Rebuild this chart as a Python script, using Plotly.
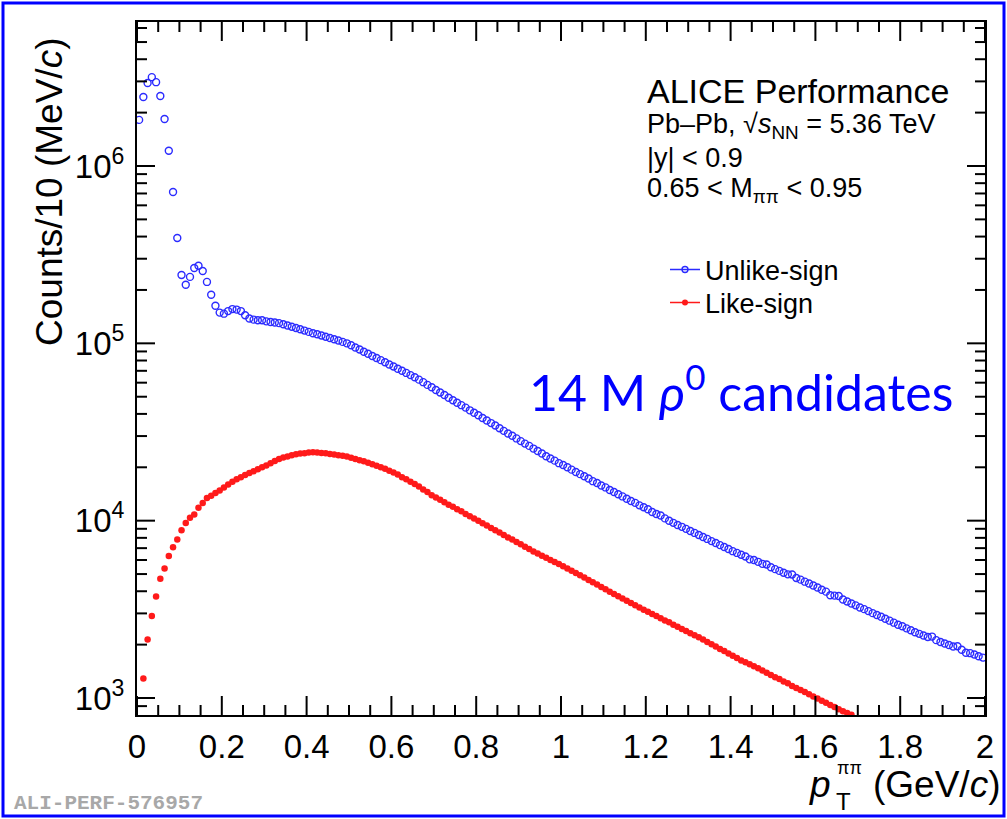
import numpy as np
import plotly.graph_objects as go

# pT bin centres, 10 MeV/c bins from 0 to 2 GeV/c
pt = [round(0.005 + 0.01 * i, 3) for i in range(200)]

# Unlike-sign pi+pi- pairs, counts per 10 MeV/c
unlike_sign = [
    1.82e6, 2.45e6, 2.94e6, 3.17e6, 2.97e6, 2.48e6, 1.84e6, 1.22e6, 7.14e5, 3.93e5,
    2.43e5, 2.14e5, 2.37e5, 2.66e5, 2.74e5, 2.56e5, 2.22e5, 1.88e5, 1.63e5, 1.49e5,
    1.47e5, 1.52e5, 1.56e5, 1.55e5, 1.52e5, 1.44e5, 1.38e5, 1.36e5, 1.35e5, 1.35e5,
    1.33e5, 1.32e5, 1.31e5, 1.30e5, 1.28e5, 1.26e5, 1.24e5, 1.22e5, 1.20e5, 1.18e5,
    1.16e5, 1.14e5, 1.125e5, 1.107e5, 1.089e5, 1.072e5, 1.054e5, 1.037e5, 1.019e5, 1.00e5,
    9.75e4, 9.48e4, 9.23e4, 8.97e4, 8.73e4, 8.49e4, 8.26e4, 8.04e4, 7.82e4, 7.60e4,
    7.40e4, 7.19e4, 7.00e4, 6.81e4, 6.62e4, 6.44e4, 6.24e4, 6.04e4, 5.83e4, 5.65e4,
    5.46e4, 5.28e4, 5.11e4, 4.93e4, 4.78e4, 4.62e4, 4.48e4, 4.34e4, 4.19e4, 4.06e4,
    3.93e4, 3.79e4, 3.67e4, 3.55e4, 3.44e4, 3.32e4, 3.21e4, 3.10e4, 3.01e4, 2.91e4,
    2.81e4, 2.72e4, 2.64e4, 2.55e4, 2.47e4, 2.39e4, 2.31e4, 2.24e4, 2.18e4, 2.11e4,
    2.06e4, 2.00e4, 1.94e4, 1.88e4, 1.83e4, 1.78e4, 1.73e4, 1.67e4, 1.63e4, 1.58e4,
    1.54e4, 1.49e4, 1.45e4, 1.41e4, 1.37e4, 1.33e4, 1.29e4, 1.26e4, 1.22e4, 1.19e4,
    1.16e4, 1.12e4, 1.09e4, 1.07e4, 1.03e4, 9.98e3, 9.72e3, 9.46e3, 9.23e3, 8.99e3,
    8.75e3, 8.53e3, 8.30e3, 8.09e3, 7.89e3, 7.67e3, 7.48e3, 7.28e3, 7.10e3, 6.92e3,
    6.73e3, 6.58e3, 6.43e3, 6.28e3, 6.05e3, 6.00e3, 5.86e3, 5.71e3, 5.66e3, 5.46e3,
    5.33e3, 5.21e3, 5.09e3, 4.98e3, 4.97e3, 4.75e3, 4.65e3, 4.53e3, 4.42e3, 4.31e3,
    4.20e3, 4.08e3, 3.98e3, 3.80e3, 3.78e3, 3.76e3, 3.59e3, 3.50e3, 3.41e3, 3.33e3,
    3.24e3, 3.17e3, 3.09e3, 3.01e3, 2.94e3, 2.87e3, 2.80e3, 2.73e3, 2.66e3, 2.59e3,
    2.54e3, 2.47e3, 2.41e3, 2.35e3, 2.30e3, 2.25e3, 2.21e3, 2.22e3, 2.12e3, 2.07e3,
    2.03e3, 1.99e3, 1.95e3, 1.96e3, 1.87e3, 1.80e3, 1.79e3, 1.76e3, 1.72e3, 1.69e3,
]

# Like-sign pairs, starting at the 0.015 GeV/c bin
like_sign = [
    1.29e3, 2.14e3, 2.90e3, 3.73e3, 4.70e3, 5.37e3, 6.33e3, 7.08e3, 7.82e3,
    8.82e3, 9.71e3, 1.04e4, 1.084e4, 1.183e4, 1.258e4, 1.343e4, 1.38e4, 1.43e4, 1.48e4,
    1.54e4, 1.60e4, 1.66e4, 1.71e4, 1.76e4, 1.81e4, 1.86e4, 1.90e4, 1.95e4, 2.00e4,
    2.05e4, 2.11e4, 2.17e4, 2.23e4, 2.27e4, 2.30e4, 2.34e4, 2.37e4, 2.39e4, 2.40e4,
    2.42e4, 2.43e4, 2.42e4, 2.41e4, 2.40e4, 2.38e4, 2.36e4, 2.34e4, 2.32e4, 2.30e4,
    2.26e4, 2.23e4, 2.19e4, 2.16e4, 2.12e4, 2.08e4, 2.04e4, 2.00e4, 1.96e4, 1.91e4,
    1.87e4, 1.82e4, 1.76e4, 1.71e4, 1.66e4, 1.61e4, 1.56e4, 1.50e4, 1.45e4, 1.39e4,
    1.35e4, 1.31e4, 1.27e4, 1.23e4, 1.20e4, 1.16e4, 1.13e4, 1.09e4, 1.06e4, 1.03e4,
    9.98e3, 9.68e3, 9.38e3, 9.10e3, 8.83e3, 8.57e3, 8.30e3, 8.05e3, 7.82e3, 7.59e3,
    7.36e3, 7.13e3, 6.92e3, 6.71e3, 6.53e3, 6.35e3, 6.18e3, 6.01e3, 5.85e3, 5.69e3,
    5.53e3, 5.38e3, 5.22e3, 5.07e3, 4.92e3, 4.78e3, 4.63e3, 4.50e3, 4.37e3, 4.23e3,
    4.10e3, 3.98e3, 3.86e3, 3.75e3, 3.64e3, 3.53e3, 3.43e3, 3.33e3, 3.24e3, 3.15e3,
    3.06e3, 2.98e3, 2.90e3, 2.82e3, 2.74e3, 2.67e3, 2.59e3, 2.52e3, 2.45e3, 2.39e3,
    2.32e3, 2.26e3, 2.20e3, 2.14e3, 2.07e3, 2.01e3, 1.95e3, 1.89e3, 1.84e3, 1.78e3,
    1.73e3, 1.68e3, 1.63e3, 1.59e3, 1.55e3, 1.51e3, 1.47e3, 1.43e3, 1.39e3, 1.35e3,
    1.31e3, 1.28e3, 1.24e3, 1.21e3, 1.17e3, 1.14e3, 1.11e3, 1.08e3, 1.05e3, 1.02e3,
    993, 966, 940, 914, 889, 865, 841, 822, 804,
]
like_pt = pt[1:1 + len(like_sign)]

x_major = [round(0.2 * i, 1) for i in range(11)]
x_minor = [round(0.05 * i, 2) for i in range(41) if i % 4]
y_major = [1e3, 1e4, 1e5, 1e6]
y_major_text = ["10<sup>3</sup>", "10<sup>4</sup>", "10<sup>5</sup>", "10<sup>6</sup>"]
y_minor = [m * 10 ** d for d in range(2, 7) for m in range(2, 10)]
x_range = [0, 2]
y_range = [np.log10(802), 6.812]

BLUE = "#2b2bff"
RED = "#ff1a1a"
FONT = "Liberation Sans"

# plot-area geometry in pixels, used for placing text in paper coordinates
L, R, T, B = 137, 985, 22, 715
W_PX, H_PX = R - L, B - T


def px_x(px):
    return (px - L) / W_PX


def px_y(py):
    return (B - py) / H_PX


fig = go.Figure()

fig.add_trace(go.Scatter(
    x=pt, y=unlike_sign, mode="markers", showlegend=False,
    marker=dict(symbol="circle-open", size=7, color=BLUE, line=dict(width=1.4, color=BLUE)),
))
fig.add_trace(go.Scatter(
    x=like_pt, y=like_sign, mode="markers", showlegend=False,
    marker=dict(symbol="circle", size=6.5, color=RED),
))

# legend entries drawn as line + marker, one legend box each
fig.add_trace(go.Scatter(
    x=[None], y=[None], mode="lines+markers", name="Unlike-sign", legend="legend",
    line=dict(color=BLUE, width=1.5),
    marker=dict(symbol="circle-open", size=6, color=BLUE, line=dict(width=1.4, color=BLUE)),
))
fig.add_trace(go.Scatter(
    x=[None], y=[None], mode="lines+markers", name="Like-sign", legend="legend2",
    line=dict(color=RED, width=1.5),
    marker=dict(symbol="circle", size=6, color=RED),
))

fig.update_xaxes(
    range=x_range, tickmode="array", tickvals=x_major,
    ticktext=[f"{v:g}" for v in x_major], ticks="",
    showline=True, linecolor="black", linewidth=2, mirror=True,
    showgrid=False, zeroline=False, ticklabelstandoff=1,
    tickfont=dict(family=FONT, size=33, color="black"),
)
fig.update_yaxes(
    type="log", range=y_range, tickmode="array", tickvals=y_major, ticktext=y_major_text,
    ticks="", showline=True, linecolor="black", linewidth=2, mirror=True,
    showgrid=False, zeroline=False, ticklabelstandoff=4,
    tickfont=dict(family=FONT, size=33, color="black"),
)

# inward tick marks on all four sides of the frame
tick_line = dict(color="black", width=2)
for values, length in ((x_major, 19), (x_minor, 10)):
    h = length / H_PX
    for v in values:
        fig.add_shape(type="line", xref="x", yref="paper", x0=v, x1=v, y0=0, y1=h,
                      line=tick_line, layer="above")
        fig.add_shape(type="line", xref="x", yref="paper", x0=v, x1=v, y0=1, y1=1 - h,
                      line=tick_line, layer="above")
for values, length in ((y_major, 18), (y_minor, 10)):
    w = length / W_PX
    for v in values:
        yp = (np.log10(v) - y_range[0]) / (y_range[1] - y_range[0])
        if not 0 <= yp <= 1:
            continue
        fig.add_shape(type="line", xref="paper", yref="paper", x0=0, x1=w, y0=yp, y1=yp,
                      line=tick_line, layer="above")
        fig.add_shape(type="line", xref="paper", yref="paper", x0=1, x1=1 - w, y0=yp, y1=yp,
                      line=tick_line, layer="above")

annotations = [
    dict(text="ALICE Performance", x=px_x(645), y=px_y(91), size=34),
    dict(text="Pb\u2013Pb, \u221a<i>s</i><sub>NN</sub> = 5.36 TeV", x=px_x(645), y=px_y(126), size=27),
    dict(text="|y| < 0.9", x=px_x(645), y=px_y(158), size=27),
    dict(text="0.65 < M<sub>\u03c0\u03c0</sub> < 0.95", x=px_x(645), y=px_y(190), size=27),
]
for a in annotations:
    fig.add_annotation(
        text=a["text"], x=a["x"], y=a["y"], xref="paper", yref="paper",
        xanchor="left", yanchor="middle", showarrow=False,
        font=dict(family=FONT, size=a["size"], color="black"),
    )

fig.add_annotation(
    text="14 M <i>\u03c1</i><sup>0</sup> candidates",
    x=px_x(527), y=px_y(388), xref="paper", yref="paper",
    xanchor="left", yanchor="middle", showarrow=False,
    font=dict(family="Lato", size=50, color="#0000ff"),
)

# y-axis title, right-aligned to the top of the frame
fig.add_annotation(
    text="Counts/10 (MeV/<i>c</i>)", textangle=-90,
    x=px_x(49), y=px_y(36), xref="paper", yref="paper",
    xanchor="center", yanchor="top", showarrow=False,
    font=dict(family=FONT, size=37, color="black"),
)

# x-axis title: p with stacked T subscript and pi-pi superscript
fig.add_annotation(text="<i>p</i>", x=px_x(833), y=px_y(784), xref="paper", yref="paper",
                   xanchor="right", yanchor="middle", showarrow=False,
                   font=dict(family=FONT, size=37, color="black"))
fig.add_annotation(text="T", x=px_x(834), y=px_y(801), xref="paper", yref="paper",
                   xanchor="left", yanchor="middle", showarrow=False,
                   font=dict(family=FONT, size=24, color="black"))
fig.add_annotation(text="\u03c0\u03c0", x=px_x(835), y=px_y(768), xref="paper", yref="paper",
                   xanchor="left", yanchor="middle", showarrow=False,
                   font=dict(family=FONT, size=18, color="black"))
fig.add_annotation(text="(GeV/<i>c</i>)", x=px_x(1002), y=px_y(784), xref="paper", yref="paper",
                   xanchor="right", yanchor="middle", showarrow=False,
                   font=dict(family=FONT, size=37, color="black"))

fig.add_annotation(
    text="<b>ALI-PERF-576957</b>", x=px_x(12), y=px_y(803), xref="paper", yref="paper",
    xanchor="left", yanchor="middle", showarrow=False,
    font=dict(family="Liberation Mono", size=21, color="#a8a8a8"),
)

# outer blue frame
fig.add_shape(type="rect", xref="paper", yref="paper",
              x0=px_x(3), x1=px_x(1004), y0=px_y(816), y1=px_y(3),
              line=dict(color="#0000ff", width=3), layer="above")

legend_style = dict(
    xanchor="left", yanchor="middle", xref="paper", yref="paper",
    font=dict(family=FONT, size=27, color="black"),
    bgcolor="rgba(0,0,0,0)", itemwidth=30,
)

fig.update_layout(
    width=1007, height=819,
    margin=dict(l=L, r=1007 - R, t=T, b=819 - B),
    paper_bgcolor="white", plot_bgcolor="white",
    font=dict(family=FONT, color="black"),
    legend=dict(x=px_x(665), y=px_y(270), **legend_style),
    legend2=dict(x=px_x(665), y=px_y(303), **legend_style),
)

fig.write_html("out.html")
